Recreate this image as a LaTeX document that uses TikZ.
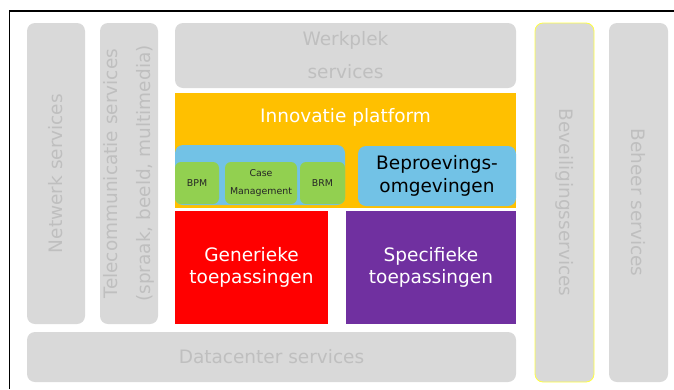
\documentclass[tikz,border=0pt]{standalone}
\usepackage{fontspec}
\setmainfont{DejaVu Sans}
\usetikzlibrary{positioning}
\definecolor{svcgray}{HTML}{D9D9D9}
\definecolor{svctext}{HTML}{BFBFBF}
\definecolor{platorange}{HTML}{FFC000}
\definecolor{trialblue}{HTML}{72C2E6}
\definecolor{toolgreen}{HTML}{92D050}
\definecolor{genred}{HTML}{FF0000}
\definecolor{specpurple}{HTML}{7030A0}
\definecolor{secyellow}{HTML}{FFFF40}

\begin{document}
\begin{tikzpicture}[x=1pt, y=-1pt,
    bigfont/.style={font=\fontsize{18.5}{22.5}\selectfont},
    svcbox/.style={rectangle, rounded corners=8pt, fill=svcgray, text=svctext, inner sep=0pt, outer sep=0pt, align=center, bigfont},
    blockbox/.style={rectangle, inner sep=0pt, outer sep=0pt, text=white, align=center, bigfont},
    trialbox/.style={rectangle, rounded corners=8pt, fill=trialblue, inner sep=0pt, outer sep=0pt, align=center, bigfont},
    toolbox/.style={rectangle, rounded corners=6pt, fill=toolgreen, inner sep=0pt, outer sep=0pt, align=center, minimum height=42pt, text=black!85, font=\fontsize{9.4}{18}\selectfont}
    ]
    \useasboundingbox (0,0) rectangle (674,389);

    %Frame
    \draw[line width=1.2pt] (9.5,389) -- (9.5,11) -- (674,11);

    %Service columns
    \node[svcbox, rotate=90, minimum width=301pt, minimum height=58pt]
        (netwerk)   at (56,173.5)   {Netwerk services};
    \node[svcbox, rotate=90, minimum width=301pt, minimum height=58pt, font=\fontsize{18.5}{33.5}\selectfont]
        (telecom)   at (129,173.5)  {Telecommunicatie services\\(spraak, beeld, multimedia)};
    \node[svcbox, minimum width=341pt, minimum height=65pt, font=\fontsize{18.5}{33}\selectfont]
        (werkplek)  at (345.5,55.5) {Werkplek\\services};
    \node[svcbox, minimum width=489pt, minimum height=50pt]
        (datacenter) at (271.5,357) {Datacenter services};
    \node[svcbox, draw=secyellow, line width=0.8pt, rotate=-90, minimum width=359pt, minimum height=59pt]
        (beveiliging) at (564.5,202.5) {Beveiligingsservices};
    \node[svcbox, rotate=-90, minimum width=359pt, minimum height=59pt]
        (beheer)    at (638.5,202.5) {Beheer services};

    %Innovation platform
    \node[blockbox, fill=platorange, minimum width=341pt, minimum height=115pt]
        (platform)  at (345.5,150.5) {};
    \node[blockbox] (platformtxt) at (345.5,117) {Innovatie platform};
    \node[trialbox, minimum width=170pt, minimum height=60pt]
        (toolset)   at (260,175)    {};
    \node[toolbox, minimum width=44pt] (bpm)  at (197,183)   {BPM};
    \node[toolbox, minimum width=72pt] (case) at (261,183)   {Case\\Management};
    \node[toolbox, minimum width=45pt] (brm)  at (322.5,183) {BRM};
    \node[trialbox, minimum width=158pt, minimum height=60pt]
        (beproeving) at (437,176)   {Beproevings-\\omgevingen};

    %Applications
    \node[blockbox, fill=genred, minimum width=153pt, minimum height=113pt]
        (generiek)  at (251.5,267.5) {Generieke\\toepassingen};
    \node[blockbox, fill=specpurple, minimum width=170pt, minimum height=113pt]
        (specifiek) at (431,267.5)  {Specifieke\\toepassingen};
\end{tikzpicture}
\end{document}
